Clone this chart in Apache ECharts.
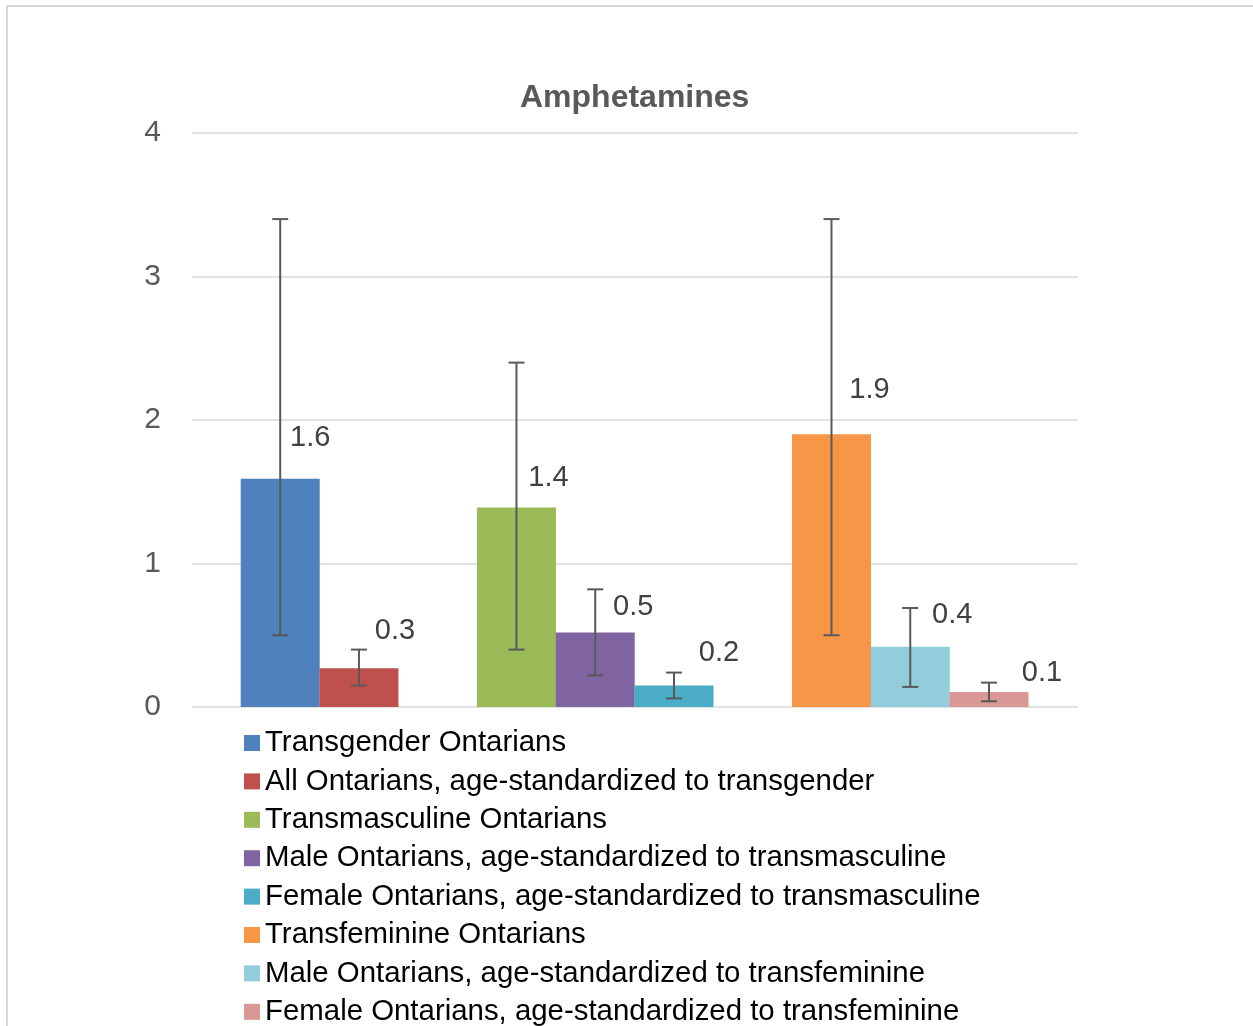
<!DOCTYPE html>
<html>
<head>
<meta charset="utf-8">
<title>Amphetamines</title>
<script src="https://cdn.jsdelivr.net/npm/echarts@6/dist/echarts.min.js"></script>
<style>
  html, body { margin: 0; padding: 0; background: #fff; }
  #chart { width: 1253px; height: 1026px; }
</style>
</head>
<body>
<div id="chart"></div>
<script>
// series names, in legend order
const seriesNames = [
    'Transgender Ontarians',
    'All Ontarians, age-standardized to transgender',
    'Transmasculine Ontarians',
    'Male Ontarians, age-standardized to transmasculine',
    'Female Ontarians, age-standardized to transmasculine',
    'Transfeminine Ontarians',
    'Male Ontarians, age-standardized to transfeminine',
    'Female Ontarians, age-standardized to transfeminine'
]
// how many bars sit together in each cluster
const groupSizes = [2, 3, 3]
// estimates (%), lower and upper confidence limits
const values = [1.59, 0.27, 1.39, 0.52, 0.15, 1.9, 0.42, 0.105]
const lows = [0.5, 0.15, 0.4, 0.22, 0.06, 0.5, 0.14, 0.04]
const highs = [3.4, 0.4, 2.4, 0.82, 0.24, 3.4, 0.69, 0.17]
// y axis
const yTicks = [0, 1, 2, 3, 4]

const colors = ['#4F81BD', '#C0504D', '#9BBB59', '#8064A2', '#4BACC6', '#F79646', '#92CDDC', '#D99795']
// label nudges (px) so the numbers sit where the original put them
const labelNudge = [[30, -26], [36, -23], [32, -15], [38, -11], [45, -18], [38, -30], [42, -17], [53, -4]]

const font = '"Liberation Sans", Arial, Helvetica, sans-serif'

// slot index of each bar: clusters separated by one empty slot
let slots = []
let pos = 0
groupSizes.forEach(n => {
    for (let i = 0; i < n; i++) slots.push(pos++)
    pos++
})

const chart = echarts.init(document.getElementById('chart'))

const barSeries = seriesNames.map((name, i) => ({
    name: name,
    type: 'bar',
    stack: 'all',
    barWidth: 79,
    itemStyle: { color: colors[i] },
    label: {
        show: true,
        position: 'top',
        distance: 0,
        offset: labelNudge[i],
        fontFamily: font,
        fontSize: 29,
        color: '#404040',
        formatter: p => (Math.round(p.value[1] * 10) / 10).toFixed(1)
    },
    data: [[slots[i], values[i]]],
    z: 2
}))

// error bars drawn on the same axes
const errData = slots.map((s, i) => [s, lows[i], highs[i]])
const errSeries = {
    type: 'custom',
    name: 'err',
    data: errData,
    z: 5,
    silent: true,
    renderItem: (params, api) => {
        const x = api.value(0)
        const lo = api.coord([x, api.value(1)])
        const hi = api.coord([x, api.value(2)])
        const half = 8
        const style = { stroke: '#595959', lineWidth: 2 }
        return {
            type: 'group',
            children: [
                { type: 'line', shape: { x1: lo[0], y1: lo[1], x2: hi[0], y2: hi[1] }, style: style },
                { type: 'line', shape: { x1: lo[0] - half, y1: lo[1], x2: lo[0] + half, y2: lo[1] }, style: style },
                { type: 'line', shape: { x1: hi[0] - half, y1: hi[1], x2: hi[0] + half, y2: hi[1] }, style: style }
            ]
        }
    }
}

const option = {
    animation: false,
    backgroundColor: '#fff',
    color: colors,
    graphic: [{
        type: 'rect',
        shape: { x: 7, y: 6, width: 1300, height: 1100 },
        style: { fill: 'none', stroke: '#d9d9d9', lineWidth: 2 },
        silent: true
    }],
    title: {
        text: 'Amphetamines',
        left: 515,
        top: 77,
        textStyle: { fontFamily: font, fontSize: 32, fontWeight: 'bold', color: '#595959' }
    },
    legend: {
        orient: 'vertical',
        left: 239,
        top: 723,
        height: 400,
        itemGap: 8.4,
        itemWidth: 16,
        itemHeight: 16,
        icon: 'rect',
        data: seriesNames,
        textStyle: { fontFamily: font, fontSize: 29.4, lineHeight: 30, color: '#000' }
    },
    grid: { left: 192, right: 175, top: 133, bottom: 319 },
    xAxis: {
        type: 'value',
        min: -1.12,
        max: 10.13,
        axisLine: { show: false },
        axisTick: { show: false },
        axisLabel: { show: false },
        splitLine: { show: false }
    },
    yAxis: {
        type: 'value',
        min: yTicks[0],
        max: yTicks[yTicks.length - 1],
        interval: 1,
        axisLine: { show: false },
        axisTick: { show: false },
        axisLabel: { fontFamily: font, fontSize: 30, color: '#595959', margin: 31, padding: [8, 0, 0, 0] },
        splitLine: { lineStyle: { color: '#d9d9d9', width: 1.5 } }
    },
    series: barSeries.concat([errSeries])
}

chart.setOption(option)
</script>
</body>
</html>
